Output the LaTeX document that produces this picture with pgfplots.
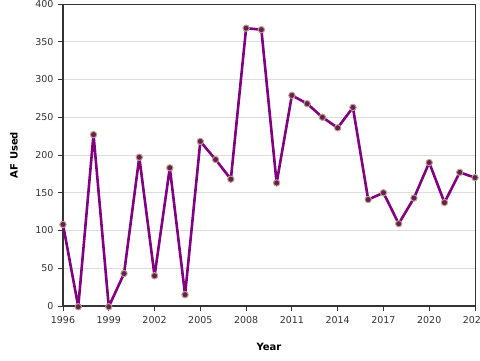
\documentclass[border=0pt]{standalone}
\usepackage{pgfplots}
\pgfplotsset{compat=1.18}
\usepackage{fontspec}
\setmainfont{DejaVu Sans}
\definecolor{linepurple}{HTML}{800080}
\definecolor{markfill}{HTML}{6A1B5A}
\definecolor{markedge}{HTML}{B8A584}
\definecolor{axisdark}{HTML}{333333}
\definecolor{gridgray}{HTML}{DDDDDD}
\definecolor{ticktext}{HTML}{333333}
\begin{document}
\begin{tikzpicture}
\useasboundingbox (-63pt,-54pt) rectangle (417pt,306pt);
\begin{axis}[
  at={(0,0)}, anchor=south west,
  scale only axis, width=412pt, height=302pt,
  xmin=1996, xmax=2023, ymin=0, ymax=400,
  axis x line*=bottom, axis y line*=left,
  xtick={1996,1999,2002,2005,2008,2011,2014,2017,2020,2023},
  ytick={0,50,100,150,200,250,300,350,400},
  xticklabel style={/pgf/number format/1000 sep={}, yshift=-2pt},
  yticklabel style={xshift=-1pt},
  /pgf/number format/assume math mode=true,
  tick label style={font=\fontsize{9.5}{11}\selectfont, text=ticktext},
  tick align=outside,
  major tick length=5pt,
  tick style={axisdark, line width=0.8pt},
  ymajorgrids, grid style={gridgray, line width=0.8pt},
  axis line style={axisdark, line width=2pt, -},
  xlabel={\textbf{Year}}, ylabel={\textbf{AF Used}},
  label style={font=\fontsize{10}{12}\selectfont},
  xlabel style={at={(axis description cs:0.5,0)}, anchor=center, yshift=-41pt},
  ylabel style={at={(axis description cs:0,0.5)}, anchor=center, yshift=49pt},
  clip=false,
]
\draw[axisdark, line width=0.8pt] (rel axis cs:0,1) -- (rel axis cs:1,1) -- (rel axis cs:1,0);
\addplot[linepurple, line width=2.6pt, line join=round, mark=*, mark size=3.2pt,
  mark options={fill=markfill, draw=markedge, line width=1pt}]
coordinates {
(1996,108) (1997,-1) (1998,227) (1999,-1) (2000,43) (2001,197) (2002,40)
(2003,183) (2004,15) (2005,218) (2006,194) (2007,168) (2008,368) (2009,366)
(2010,163) (2011,279) (2012,268) (2013,250) (2014,236) (2015,263) (2016,141)
(2017,150) (2018,109) (2019,143) (2020,190) (2021,137) (2022,177) (2023,170)
};
\end{axis}
\end{tikzpicture}
\end{document}
